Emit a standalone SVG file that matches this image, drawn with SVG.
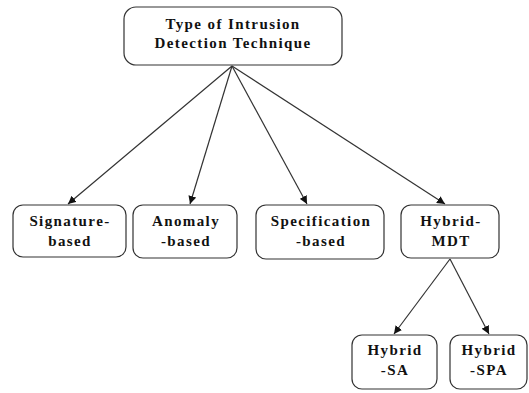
<svg xmlns="http://www.w3.org/2000/svg" width="529" height="393" viewBox="0 0 529 393">
<style>
.box{fill:#fff;stroke:#333;stroke-width:1.2}
.t{font-family:"Liberation Serif","Times New Roman",serif;font-weight:bold;font-size:15px;letter-spacing:1.4px;fill:#111;text-anchor:middle}
.c{stroke:#333;stroke-width:1.2;fill:none}
</style>
<defs>
<marker id="ah" viewBox="0 0 10 10" refX="10" refY="5" markerWidth="8" markerHeight="8" markerUnits="userSpaceOnUse" orient="auto">
<path d="M0,0 L10,5 L0,10 z" fill="#111"/>
</marker>
</defs>
<rect width="529" height="393" fill="#fff"/>
<g id="connectors">
<line class="c" x1="232" y1="66" x2="68" y2="204" marker-end="url(#ah)"/>
<line class="c" x1="232" y1="66" x2="190" y2="204" marker-end="url(#ah)"/>
<line class="c" x1="232" y1="66" x2="307" y2="204" marker-end="url(#ah)"/>
<line class="c" x1="232" y1="66" x2="445" y2="204" marker-end="url(#ah)"/>
<line class="c" x1="450" y1="259" x2="394" y2="334" marker-end="url(#ah)"/>
<line class="c" x1="450" y1="259" x2="489" y2="334" marker-end="url(#ah)"/>
</g>
<g id="root">
<rect class="box" x="124" y="7" width="218" height="58" rx="12"/>
<text class="t" x="233" y="29">Type of Intrusion</text>
<text class="t" x="233" y="48">Detection Technique</text>
</g>
<g id="signature">
<rect class="box" x="13" y="205" width="113" height="52" rx="10"/>
<text class="t" x="70" y="226">Signature-</text>
<text class="t" x="70" y="246">based</text>
</g>
<g id="anomaly">
<rect class="box" x="133" y="205" width="104" height="53" rx="10"/>
<text class="t" x="186" y="226">Anomaly</text>
<text class="t" x="186" y="246">-based</text>
</g>
<g id="specification">
<rect class="box" x="256" y="205" width="128" height="54" rx="10"/>
<text class="t" x="321" y="226">Specification</text>
<text class="t" x="321" y="246">-based</text>
</g>
<g id="hybrid-mdt">
<rect class="box" x="401" y="205" width="98" height="53" rx="10"/>
<text class="t" x="451" y="226">Hybrid-</text>
<text class="t" x="451" y="246">MDT</text>
</g>
<g id="hybrid-sa">
<rect class="box" x="352" y="335" width="85" height="54" rx="10"/>
<text class="t" x="395" y="355">Hybrid</text>
<text class="t" x="395" y="375">-SA</text>
</g>
<g id="hybrid-spa">
<rect class="box" x="450" y="335" width="77" height="54" rx="10"/>
<text class="t" x="489" y="355">Hybrid</text>
<text class="t" x="489" y="375">-SPA</text>
</g>
</svg>
